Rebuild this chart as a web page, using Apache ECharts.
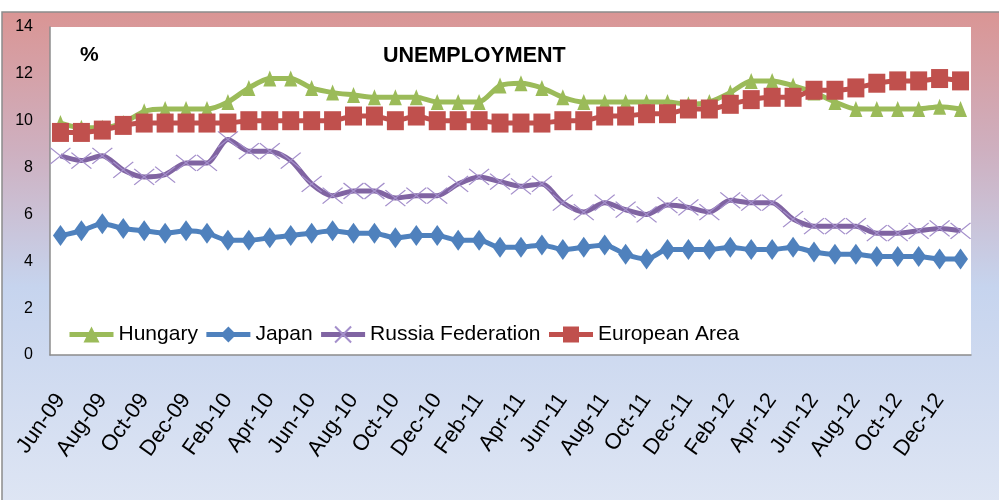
<!DOCTYPE html>
<html>
<head>
<meta charset="utf-8">
<title>Unemployment</title>
<script src="https://cdn.jsdelivr.net/npm/echarts@6/dist/echarts.min.js"></script>
<style>
  html, body { margin: 0; padding: 0; background: #fff; }
  #chart { width: 999px; height: 500px; }
</style>
</head>
<body>
<div id="chart"></div>
<script>
// months, Jun-09 .. Jan-13
var months = ['Jun-09','Jul-09','Aug-09','Sep-09','Oct-09','Nov-09','Dec-09',
  'Jan-10','Feb-10','Mar-10','Apr-10','May-10','Jun-10','Jul-10','Aug-10','Sep-10','Oct-10','Nov-10','Dec-10',
  'Jan-11','Feb-11','Mar-11','Apr-11','May-11','Jun-11','Jul-11','Aug-11','Sep-11','Oct-11','Nov-11','Dec-11',
  'Jan-12','Feb-12','Mar-12','Apr-12','May-12','Jun-12','Jul-12','Aug-12','Sep-12','Oct-12','Nov-12','Dec-12',
  'Jan-13'];

var hungary = [9.9,9.7,9.7,9.9,10.4,10.5,10.5,10.5,10.8,11.4,11.8,11.8,
  11.4,11.2,11.1,11.0,11.0,11.0,10.8,10.8,10.8,
  11.5,11.6,11.4,11.0,10.8,10.8,10.8,10.8,10.8,10.7,10.8,
  11.2,11.7,11.7,11.5,11.2,10.8,10.5,10.5,10.5,10.5,10.6,10.5];
var japan = [5.1,5.3,5.6,5.4,5.3,5.2,5.3,5.2,4.9,4.9,5.0,5.1,
  5.2,5.3,5.2,5.2,5.0,5.1,5.1,4.9,4.9,
  4.6,4.6,4.7,4.5,4.6,4.7,4.3,4.1,4.5,4.5,4.5,
  4.6,4.5,4.5,4.6,4.4,4.3,4.3,4.2,4.2,4.2,4.1,4.1];
var russia = [8.5,8.3,8.5,7.9,7.6,7.7,8.2,8.2,9.2,8.7,8.7,8.3,
  7.3,6.8,7.0,7.0,6.7,6.8,6.8,7.3,7.6,
  7.4,7.2,7.3,6.5,6.1,6.5,6.2,6.0,6.4,6.3,6.1,
  6.6,6.5,6.5,5.8,5.5,5.5,5.5,5.2,5.2,5.3,5.4,5.3];
var euroArea = [9.5,9.5,9.6,9.8,9.9,9.9,9.9,9.9,9.9,10.0,10.0,10.0,
  10.0,10.0,10.2,10.2,10.0,10.2,10.0,10.0,10.0,
  9.9,9.9,9.9,10.0,10.0,10.2,10.2,10.3,10.3,10.5,10.5,
  10.7,10.9,11.0,11.0,11.3,11.3,11.4,11.6,11.7,11.7,11.8,11.7];

var font = "'Liberation Sans', Arial, sans-serif";

var myChart = echarts.init(document.getElementById('chart'));

function line(name, data, color, symbol, size, item) {
	return {
		name: name,
		type: 'line',
		data: data,
		smooth: 0.25,
		symbol: symbol,
		symbolSize: size,
		showAllSymbol: true,
		lineStyle: { color: color, width: 5 },
		itemStyle: item || { color: color },
		emphasis: { disabled: true }
	};
}

var option = {
	animation: false,
	backgroundColor: '#fff',
	graphic: {
		elements: [{
			type: 'rect',
			z: -10,
			silent: true,
			shape: { x: 2, y: 12, width: 1010, height: 500 },
			style: {
				fill: new echarts.graphic.LinearGradient(0, 0, 0, 1, [
					{ offset: 0, color: '#da9594' },
					{ offset: 0.28, color: '#ceb0c0' },
					{ offset: 0.55, color: '#c6d4ee' },
					{ offset: 1, color: '#dfe6f4' }
				]),
				stroke: '#8c8c8c',
				lineWidth: 1.5
			}
		}]
	},
	title: [{
		text: 'UNEMPLOYMENT',
		left: 378,
		top: 40,
		textStyle: { fontFamily: font, fontSize: 21.5, fontWeight: 'bold', color: '#000' }
	}, {
		text: '%',
		left: 75,
		top: 40,
		textStyle: { fontFamily: font, fontSize: 21, fontWeight: 'bold', color: '#000' }
	}],
	legend: {
		left: 62,
		top: 319,
		itemWidth: 44,
		itemHeight: 20,
		itemGap: 6,
		lineStyle: { width: 5 },
		textStyle: { fontFamily: font, fontSize: 21, color: '#000' },
		data: ['Hungary', 'Japan', 'Russia Federation', 'European Area']
	},
	grid: {
		left: 50,
		right: 28,
		top: 27,
		bottom: 145,
		show: true,
		backgroundColor: '#fff',
		borderWidth: 0
	},
	xAxis: {
		type: 'category',
		data: months,
		boundaryGap: true,
		axisLine: { lineStyle: { color: '#8c8c8c', width: 1.5 } },
		axisTick: { show: false },
		axisLabel: {
			interval: 1,
			rotate: 55,
			margin: 41,
			fontFamily: font,
			fontSize: 22,
			color: '#000'
		}
	},
	yAxis: {
		type: 'value',
		min: 0,
		max: 14,
		interval: 2,
		axisLine: { show: true, lineStyle: { color: '#8c8c8c', width: 1.5 } },
		axisTick: { show: false },
		splitLine: { show: false },
		axisLabel: { margin: 17, fontFamily: font, fontSize: 16, color: '#000' }
	},
	series: [
		line('Hungary', hungary, '#9bbb59', 'triangle', [13, 16]),
		line('Japan', japan, '#4f81bd', 'diamond', [15, 21]),
		line('Russia Federation', russia, '#8064a2', 'path://M0,0L20,16M20,0L0,16', [20, 16],
			{ color: 'rgba(0,0,0,0)', borderColor: '#a48fcb', borderWidth: 1.2 }),
		line('European Area', euroArea, '#c0504d', 'rect', [17, 19])
	]
};

myChart.setOption(option);
</script>
</body>
</html>
